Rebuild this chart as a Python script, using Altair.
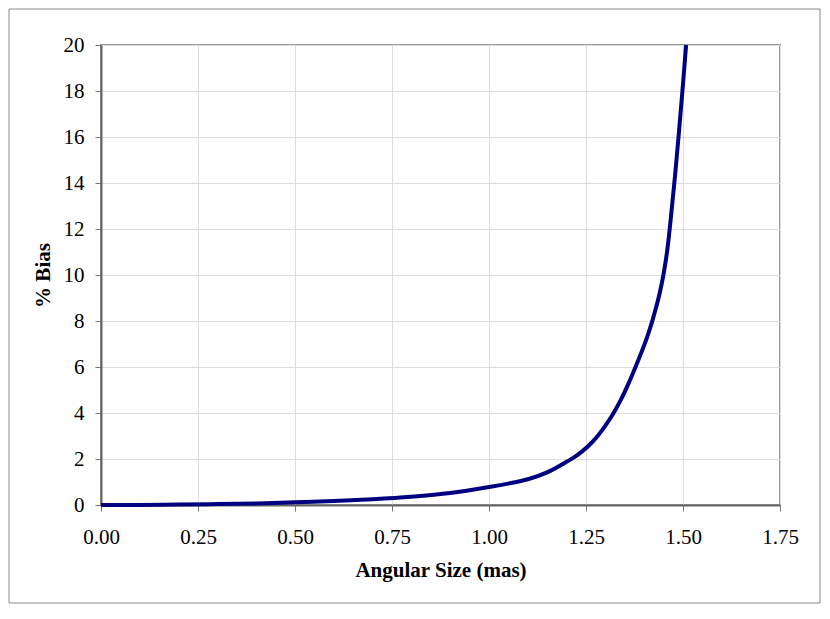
import altair as alt
import pandas as pd

# values
angular_size = [0.0, 0.1, 0.2, 0.3, 0.4, 0.5, 0.6, 0.7, 0.8, 0.9, 1.0, 1.05, 1.1,
                1.15, 1.2, 1.22, 1.24, 1.26, 1.28, 1.30, 1.32, 1.34, 1.36, 1.38,
                1.40, 1.41, 1.42, 1.43, 1.44, 1.45, 1.46, 1.47, 1.48, 1.49, 1.50, 1.508]
bias_pct = [0.0, 0.005, 0.02, 0.04, 0.07, 0.12, 0.17, 0.25, 0.36, 0.52, 0.78, 0.93,
            1.12, 1.42, 1.88, 2.08, 2.33, 2.63, 3.0, 3.45, 3.97, 4.58, 5.3, 6.1,
            6.95, 7.42, 7.95, 8.55, 9.22, 10.05, 11.15, 12.7, 14.4, 16.3, 18.3, 20.0]
x_ticks = [0.0, 0.25, 0.5, 0.75, 1.0, 1.25, 1.5, 1.75]
y_ticks = [0, 2, 4, 6, 8, 10, 12, 14, 16, 18, 20]

df = pd.DataFrame({"x": angular_size, "y": bias_pct})

FONT = "Liberation Serif"
W, H = 679, 460
PL, PT, PR, PB = 93, 37, 41, 99

line = alt.Chart(df).mark_line(color="#000080", strokeWidth=4, interpolate="monotone").encode(
    x=alt.X("x:Q", title="Angular Size (mas)",
            scale=alt.Scale(domain=[0, 1.75], nice=False),
            axis=alt.Axis(values=x_ticks, format=".2f", labelPadding=15, titlePadding=12)),
    y=alt.Y("y:Q", title="% Bias",
            scale=alt.Scale(domain=[0, 20], nice=False),
            axis=alt.Axis(values=y_ticks, labelPadding=11, titlePadding=10)),
)

frame = alt.Chart(pd.DataFrame({"a": [0]})).mark_rect(
    fill=None, stroke="#888888", strokeWidth=1, clip=False
).encode(
    x=alt.value(-PL + 1), x2=alt.value(W + PR - 1),
    y=alt.value(-PT + 1), y2=alt.value(H + PB - 1),
)

chart = alt.layer(frame, line).properties(
    width=W, height=H,
    padding={"left": PL, "top": PT, "right": PR, "bottom": PB},
    autosize=alt.AutoSizeParams(type="none"),
).configure_view(
    stroke="#999999", strokeWidth=2
).configure_axis(
    labelFont=FONT, titleFont=FONT, labelFontSize=21, titleFontSize=21,
    labelColor="black", titleColor="black", titleFontWeight="bold",
    grid=True, gridColor="#dddddd", gridWidth=1,
    domainColor="#666666", domainWidth=2,
    tickColor="#777777", tickSize=6, tickWidth=1,
    labelFlush=False, labelOverlap=False,
)

chart.save("out.html", embed_options={"renderer": "svg", "actions": False})
